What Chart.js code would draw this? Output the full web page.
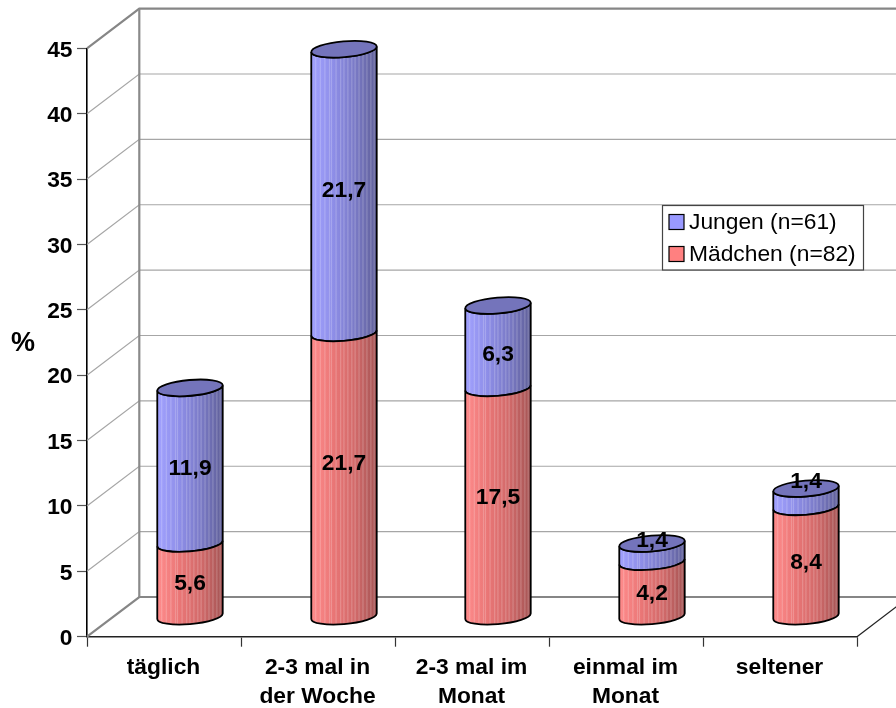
<!DOCTYPE html>
<html><head><meta charset="utf-8">
<script src="https://cdn.jsdelivr.net/npm/chart.js@4"></script>
<style>html,body{margin:0;padding:0;background:#fff}canvas{display:block}</style>
</head><body><canvas id="c" width="896" height="708"></canvas>
<script>
const categories = [['täglich'], ['2-3 mal in', 'der Woche'], ['2-3 mal im', 'Monat'], ['einmal im', 'Monat'], ['seltener']];
const maedchen = [5.6, 21.7, 17.5, 4.2, 8.4];
const jungen = [11.9, 21.7, 6.3, 1.4, 1.4];
const seriesNames = ['Mädchen (n=82)', 'Jungen (n=61)'];
const axisTitle = '%';

const FONT = '"Liberation Sans", Arial, sans-serif';
const FS = 22.8;
const wallDx = 52.3, wallDy = -39.7, barDx = 26, barDy = -20;
const RY = 7.9, ROT = -5 * Math.PI / 180;
const labelNudge = [[3.9, -10.8, -4.2, 4.5, 0.9], [3.3, 0, 8.4, -11.6, -15.6]];
const stripes = [.06,.13,.2,.27,.3,.37,.44,.49,.55,.61,.66,.72,.78,.84,.9,.95];
const palette = {
  red: {stops:['#ff8c8c','#ea7676','#d26a6a','#a45454'], swatch:'#ff8080'},
  blue:{stops:['#a2a2ff','#8e8ee8','#7a7ac6','#5f5f98'], swatch:'#9999ff', top:'#7474bb'}
};
function fmt(v){return String(v).replace('.',',');}

function drawCyl(ctx, el, col, withTop){
  const cx = el.x + barDx, rx = el.width/2;
  const by = el.base + barDy, ty = el.y + barDy;
  const t0 = Math.atan(-(RY/rx)*Math.tan(ROT));
  ctx.save();
  ctx.beginPath();
  ctx.ellipse(cx,by,rx,RY,ROT,t0,t0+Math.PI,false);
  ctx.ellipse(cx,ty,rx,RY,ROT,t0+Math.PI,t0,true);
  ctx.closePath();
  const g = ctx.createLinearGradient(cx-rx,0,cx+rx,0);
  col.stops.forEach((s,i)=>g.addColorStop(i/(col.stops.length-1),s));
  ctx.fillStyle = g; ctx.fill();
  ctx.save(); ctx.clip();
  ctx.fillStyle='rgba(255,255,255,0.2)';
  stripes.forEach(f=>ctx.fillRect(cx-rx+f*2*rx,ty-20,1.2,by-ty+40));
  ctx.restore();
  ctx.lineWidth=1.8; ctx.strokeStyle='#000'; ctx.stroke();
  if(withTop){
    ctx.beginPath();
    ctx.ellipse(cx,ty,rx,RY,ROT,0,2*Math.PI);
    ctx.fillStyle=col.top; ctx.fill(); ctx.stroke();
  }
  ctx.restore();
}

const scene = {
  id:'scene',
  beforeDatasetsDraw(chart){
    const {ctx,scales:{x,y},chartArea:a}=chart;
    ctx.save();
    y.ticks.forEach(t=>{
      const py=y.getPixelForValue(t.value);
      const heavy=t.value===0||t.value===y.max;
      ctx.strokeStyle=heavy?'#868686':'#a6a6a6';
      ctx.lineWidth=heavy?2.2:1.2;
      ctx.beginPath();
      ctx.moveTo(a.left,py);ctx.lineTo(a.left+wallDx,py+wallDy);ctx.lineTo(a.right+wallDx,py+wallDy);
      ctx.stroke();
    });
    ctx.strokeStyle='#8a8a8a';ctx.lineWidth=2.2;
    ctx.beginPath();ctx.moveTo(a.left+wallDx,a.top+wallDy);ctx.lineTo(a.left+wallDx,a.bottom+wallDy);ctx.stroke();
    ctx.strokeStyle='#222';ctx.lineWidth=1.2;
    ctx.beginPath();ctx.moveTo(a.right,a.bottom);ctx.lineTo(a.right+wallDx,a.bottom+wallDy);ctx.stroke();
    ctx.restore();
  },
  beforeDatasetDraw(chart,args){
    const isTop=args.index===1;
    const col=isTop?palette.blue:palette.red;
    args.meta.data.forEach(el=>drawCyl(chart.ctx,el,col,isTop));
    return false;
  },
  afterDatasetsDraw(chart){
    const {ctx}=chart;
    ctx.save();
    ctx.font=`bold ${FS}px ${FONT}`;ctx.textAlign='center';ctx.textBaseline='middle';ctx.fillStyle='#000';
    chart.data.datasets.forEach((ds,di)=>{
      chart.getDatasetMeta(di).data.forEach((el,i)=>{
        const yy=(el.y+el.base)/2+barDy+labelNudge[di][i];
        ctx.fillText(fmt(ds.data[i]),el.x+barDx,yy);
      });
    });
    // axis title
    ctx.font=`bold 27px ${FONT}`;
    ctx.fillText(axisTitle,23,344);
    // legend
    ctx.fillStyle='#fff';ctx.strokeStyle='#444';ctx.lineWidth=1.2;
    ctx.fillRect(662.5,205.5,201,64.5);ctx.strokeRect(662.5,205.5,201,64.5);
    ctx.textAlign='left';
    [[seriesNames[1],palette.blue.swatch,222],[seriesNames[0],palette.red.swatch,254]].forEach(([t,c,yc])=>{
      ctx.fillStyle=c;ctx.strokeStyle='#000';ctx.lineWidth=1.2;
      ctx.fillRect(669,yc-7.5,15,15);ctx.strokeRect(669,yc-7.5,15,15);
      ctx.fillStyle='#000';ctx.font=`${FS}px ${FONT}`;
      ctx.fillText(t,689,yc+1);
    });
    ctx.restore();
  }
};

new Chart(document.getElementById('c'),{
  type:'bar',
  data:{labels:categories,datasets:[
    {label:seriesNames[0],data:maedchen,backgroundColor:palette.red.swatch},
    {label:seriesNames[1],data:jungen,backgroundColor:palette.blue.swatch}
  ]},
  options:{
    responsive:false,animation:false,devicePixelRatio:1,
    barPercentage:0.4265,categoryPercentage:1,
    layout:{padding:{left:0,right:39,top:48.3,bottom:0}},
    plugins:{legend:{display:false},tooltip:{enabled:false},title:{display:false}},
    scales:{
      x:{stacked:true,offset:true,
        grid:{drawOnChartArea:false,offset:true,tickLength:10,tickColor:'#333',tickWidth:1.2},
        border:{color:'#222',width:1.6},
        ticks:{font:{family:FONT,size:FS,weight:'bold',lineHeight:1.27},color:'#000',padding:7,maxRotation:0,autoSkip:false,labelOffset:-0.5},
        afterFit(s){s.height=71.3;}},
      y:{stacked:true,min:0,max:45,
        grid:{drawOnChartArea:false,tickLength:10,tickColor:'#555',tickWidth:1.2},
        border:{color:'#000',width:1.6},
        ticks:{stepSize:5,font:{family:FONT,size:FS,weight:'bold'},color:'#000',padding:4.5,labelOffset:2},
        afterFit(s){s.width=87;}}
    }
  },
  plugins:[scene]
});
</script></body></html>
